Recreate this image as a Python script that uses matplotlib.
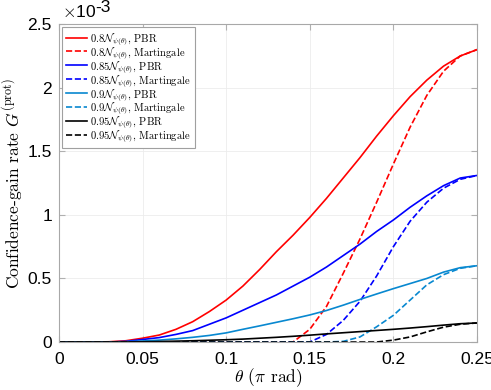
import matplotlib
matplotlib.use('Agg')
import matplotlib.pyplot as plt
import numpy as np

plt.rcParams['mathtext.fontset'] = 'cm'
plt.rcParams['font.family'] = ['Liberation Sans', 'DejaVu Sans']
plt.rcParams['axes.unicode_minus'] = False

theta = np.round(np.arange(0, 0.2501, 0.01), 2)

# values in units of 1e-3
pbr_80 = [0, 0, 0, 0.002, 0.01, 0.03, 0.055, 0.10, 0.16, 0.24, 0.33, 0.44, 0.57,
          0.71, 0.84, 0.98, 1.13, 1.29, 1.45, 1.62, 1.78, 1.93, 2.06, 2.17, 2.25, 2.30]
mart_80 = [0, 0, 0, 0, 0, 0, 0, 0, 0, 0, 0, 0, 0,
           0, 0, 0.10, 0.28, 0.54, 0.81, 1.10, 1.40, 1.69, 1.94, 2.13, 2.25, 2.30]
pbr_85 = [0, 0, 0, 0, 0.005, 0.02, 0.035, 0.06, 0.09, 0.14, 0.19, 0.25, 0.31,
          0.37, 0.44, 0.51, 0.59, 0.68, 0.77, 0.87, 0.96, 1.06, 1.15, 1.23, 1.29, 1.31]
mart_85 = [0, 0, 0, 0, 0, 0, 0, 0, 0, 0, 0, 0, 0,
           0, 0, 0, 0.06, 0.17, 0.32, 0.52, 0.75, 0.95, 1.10, 1.21, 1.28, 1.31]
pbr_90 = [0, 0, 0, 0, 0.003, 0.008, 0.015, 0.025, 0.037, 0.052, 0.072, 0.10, 0.127,
          0.155, 0.183, 0.213, 0.248, 0.29, 0.335, 0.378, 0.42, 0.46, 0.50, 0.55, 0.585, 0.60]
mart_90 = [0, 0, 0, 0, 0, 0, 0, 0, 0, 0, 0, 0, 0,
           0, 0, 0, 0, 0.005, 0.04, 0.12, 0.21, 0.33, 0.45, 0.53, 0.58, 0.60]
pbr_95 = [0, 0, 0, 0, 0, 0.002, 0.004, 0.007, 0.01, 0.014, 0.018, 0.023, 0.03,
          0.037, 0.045, 0.054, 0.064, 0.073, 0.082, 0.091, 0.10, 0.11, 0.121, 0.133, 0.144, 0.15]
mart_95 = [0, 0, 0, 0, 0, 0, 0, 0, 0, 0, 0, 0, 0,
           0, 0, 0, 0, 0, 0, 0, 0.015, 0.04, 0.08, 0.117, 0.14, 0.15]

levels = ['0.8', '0.85', '0.9', '0.95']
colors = ['#ff0000', '#0000ff', '#0888d0', '#000000']
pbr = [pbr_80, pbr_85, pbr_90, pbr_95]
mart = [mart_80, mart_85, mart_90, mart_95]

fig = plt.figure(figsize=(4.91, 3.90), dpi=100)
ax = fig.add_axes([0.120, 0.123, 0.8515, 0.815])

for lev, c, p, m in zip(levels, colors, pbr, mart):
    ax.plot(theta, np.array(p) * 1e-3, '-', color=c, lw=1.2,
            label=r'$%s\mathcal{N}_{\psi(\theta)}$, PBR' % lev)
    ax.plot(theta, np.array(m) * 1e-3, '--', color=c, lw=1.2,
            label=r'$%s\mathcal{N}_{\psi(\theta)}$, Martingale' % lev)

ax.set_xlim(0, 0.25)
ax.set_ylim(0, 2.5e-3)
ax.set_xticks([0, 0.05, 0.1, 0.15, 0.2, 0.25])
ax.set_xticklabels(['0', '0.05', '0.1', '0.15', '0.2', '0.25'])
ax.set_yticks(np.arange(0, 2.51e-3, 0.5e-3))
ax.set_yticklabels(['0', '0.5', '1', '1.5', '2', '2.5'])
ax.tick_params(direction='in', labelsize=12.6, length=4, color='#b0b0b0',
               top=True, right=True)
ax.tick_params(axis='x', pad=7)
ax.tick_params(axis='y', pad=5)
for s in ax.spines.values():
    s.set_color('#a8a8a8')
    s.set_linewidth(0.8)
ax.grid(True, color='#ececec', lw=0.6)
ax.set_axisbelow(True)

ax.text(0.007, 1.022, r'$\times$10', transform=ax.transAxes, fontsize=12.6,
        ha='left', va='baseline')
ax.text(0.086, 1.052, '-3', transform=ax.transAxes, fontsize=12.6,
        ha='left', va='center')

ax.set_xlabel(r'$\theta$ $(\pi$ rad$)$', fontsize=12.5, family='cmr10', labelpad=0)
ax.set_ylabel(r'Confidence-gain rate $G^{(\mathrm{prot})}$', fontsize=12.5,
              family='cmr10', labelpad=2)

leg = ax.legend(loc='upper left', prop={'family': 'cmr10', 'size': 7.6},
                handlelength=2.0, handletextpad=0.3, labelspacing=-0.2,
                borderpad=0.4, borderaxespad=0.25, fancybox=False, framealpha=1)
leg.get_frame().set_edgecolor('#a0a0a0')
leg.get_frame().set_linewidth(0.8)

fig.savefig('out.png', dpi=100)
